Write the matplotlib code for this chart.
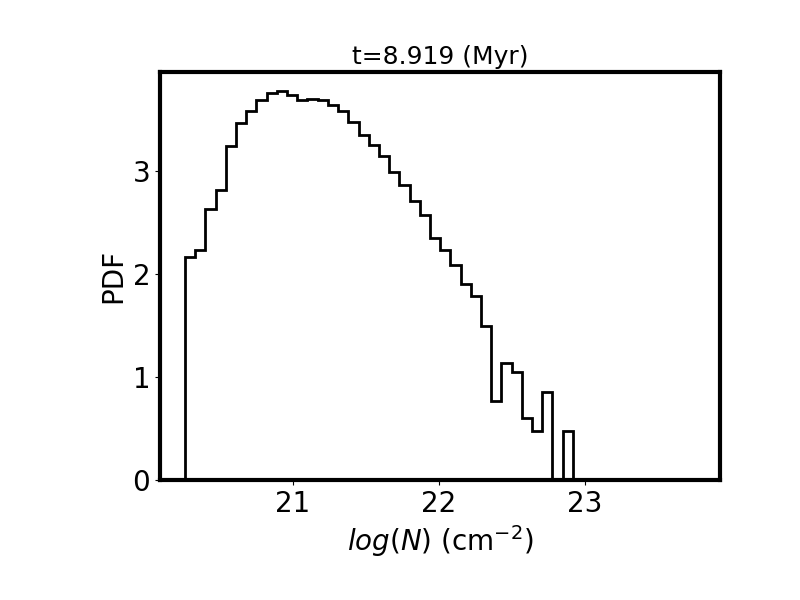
import numpy as np
import matplotlib
matplotlib.use("Agg")
import matplotlib.pyplot as plt

# Histogram bin range (log N) and PDF values
bin_first_edge = 20.265
bin_last_edge = 22.916
pdf_values = [2.16, 2.23, 2.63, 2.81, 3.24, 3.46, 3.58, 3.69, 3.75, 3.77,
              3.74, 3.69, 3.70, 3.69, 3.64, 3.58, 3.47, 3.35, 3.25, 3.14,
              2.99, 2.86, 2.71, 2.57, 2.35, 2.23, 2.09, 1.90, 1.79, 1.49,
              0.77, 1.14, 1.05, 0.60, 0.48, 0.85, 0.0, 0.48]
x_ticks = [21, 22, 23]
y_ticks = [0, 1, 2, 3]
title_text = "t=8.919 (Myr)"

edges = np.linspace(bin_first_edge, bin_last_edge, len(pdf_values) + 1)

fig = plt.figure(figsize=(8, 6), dpi=100)
ax = fig.add_subplot(111)
fig.subplots_adjust(left=0.2, bottom=0.2, right=0.9, top=0.88)

ax.stairs(pdf_values, edges, color="black", linewidth=2, baseline=0)

ax.set_xlim(20.094, 23.922)
ax.set_ylim(0, max(pdf_values) * 1.05)
ax.set_xticks(x_ticks)
ax.set_yticks(y_ticks)
ax.tick_params(labelsize=20)
for s in ax.spines.values():
    s.set_linewidth(3)

ax.set_xlabel(r"$log(N)$ (cm$^{-2}$)", fontsize=20)
ax.set_ylabel("PDF", fontsize=20)
ax.set_title(title_text, fontsize=18)

fig.savefig("out.png", dpi=100)
